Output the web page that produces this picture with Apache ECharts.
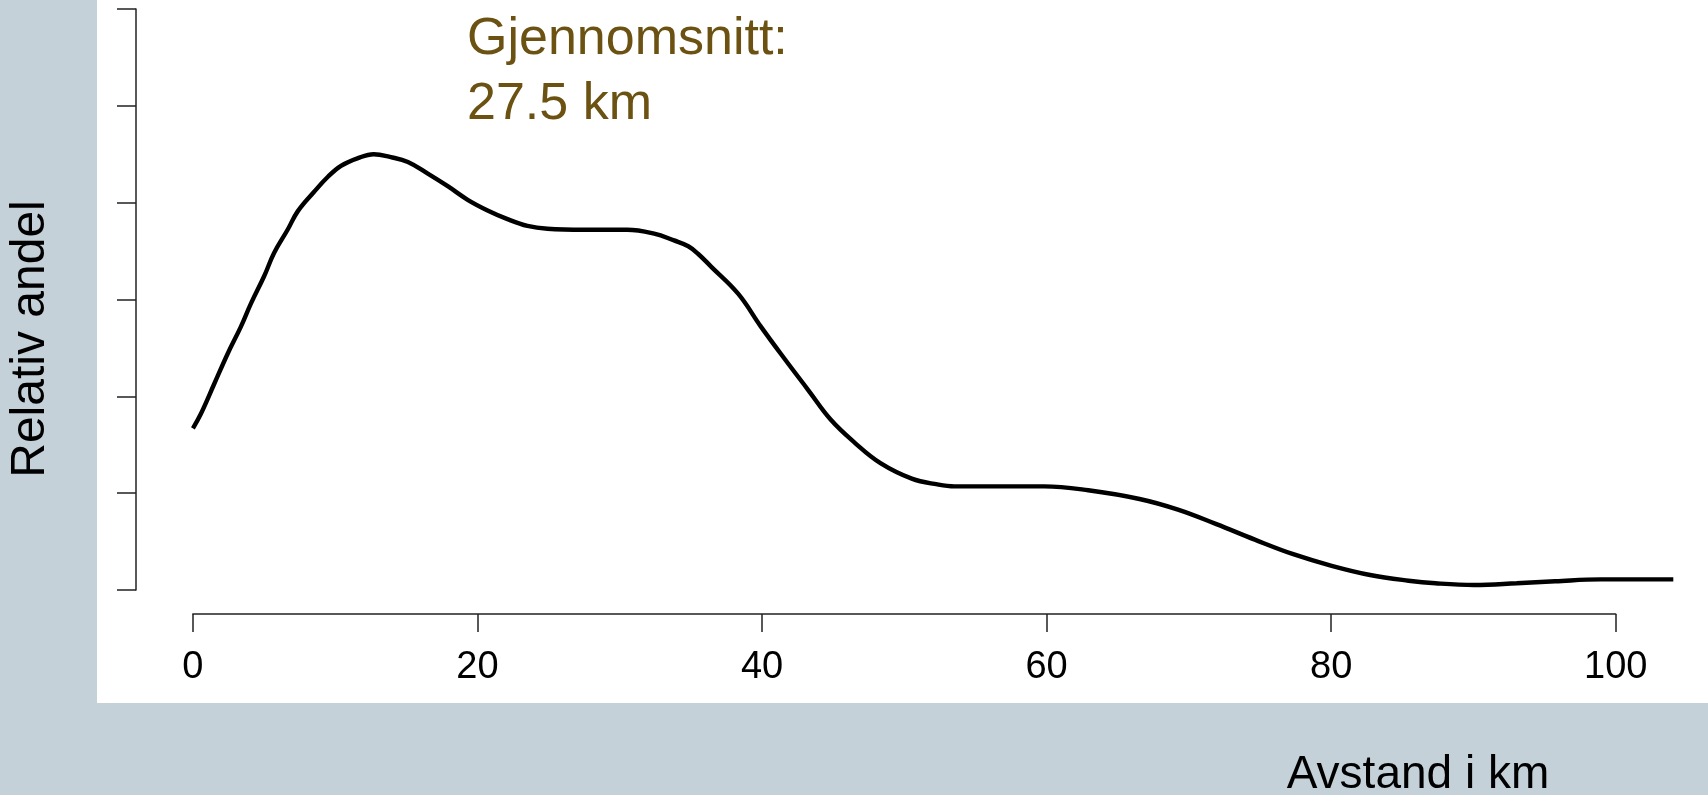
<!DOCTYPE html>
<html>
<head>
<meta charset="utf-8">
<title>Avstand i km</title>
<script src="https://cdn.jsdelivr.net/npm/echarts@6/dist/echarts.min.js"></script>
<style>
	html, body {
		margin: 0;
		padding: 0;
		background: #c5d1d8;
	}
	#wrap {
		position: relative;
		width: 1708px;
		height: 795px;
		background: #c5d1d8;
	}
	/* hvitt plottefelt */
	#panel {
		position: absolute;
		left: 97px;
		top: 0;
		width: 1611px;
		height: 703px;
		background: #ffffff;
	}
	#chart {
		position: absolute;
		left: 0;
		top: 0;
		width: 1708px;
		height: 795px;
	}
</style>
</head>
<body>
<div id="wrap">
	<div id="panel"></div>
	<div id="chart"></div>
</div>
<script>
// avstand (km) og relativ andel, lest av figuren
const distanceKm = [
	0, 0.56, 1.5, 2.44, 3.37, 4.08, 5.0, 5.7, 6.65, 7.36,
	8.5, 9.5, 10.4, 11.6, 12.7, 13.9, 15.1, 16.5, 17.9, 19.3,
	20.7, 22.1, 23.5, 24.9, 27.5, 30.5, 32.4, 33.8, 34.8, 35.5,
	36.4, 38.3, 39.9, 41.6, 43.2, 44.8, 46.5, 48.3, 50.5, 52.3,
	53.5, 57, 59.8, 62.9, 66.5, 69.2, 71.9, 74.6, 77.3, 80.0,
	82.7, 85.4, 87.3, 90.0, 93.0, 95.7, 98.9, 104
];
const relativeShare = [
	1.67, 1.82, 2.13, 2.44, 2.72, 2.96, 3.24, 3.48, 3.72, 3.91,
	4.11, 4.27, 4.38, 4.46, 4.50, 4.47, 4.42, 4.30, 4.17, 4.03,
	3.92, 3.83, 3.76, 3.73, 3.72, 3.72, 3.68, 3.61, 3.55, 3.47,
	3.34, 3.06, 2.72, 2.38, 2.07, 1.76, 1.52, 1.31, 1.15, 1.09,
	1.07, 1.07, 1.07, 1.03, 0.94, 0.83, 0.68, 0.52, 0.37, 0.25,
	0.155, 0.096, 0.069, 0.052, 0.069, 0.09, 0.11, 0.11
];
const xTicks = [0, 20, 40, 60, 80, 100];
const yTicks = [0, 1, 2, 3, 4, 5, 6];
const meanLabel = ['Gjennomsnitt:', '27.5 km'];

const font = '"Liberation Sans", Arial, Helvetica, sans-serif';
const axisColor = '#222';

const myChart = echarts.init(document.getElementById('chart'), null, { renderer: 'canvas' });

const curve = distanceKm.map((d, i) => [d, relativeShare[i]]);

const options = {
	animation: false,
	grid: [
		// kurvefeltet, y-aksen ligger på venstre kant
		{ left: 136, right: 34.7, top: 9, bottom: 205 },
		// egen smal rute kun for x-aksen (R-stil, forskjøvet ned)
		{ left: 192.9, right: 92.3, top: 613, bottom: 181 }
	],
	xAxis: [
		{
			gridIndex: 0,
			type: 'value',
			min: -4,
			max: 104,
			show: false
		},
		{
			gridIndex: 1,
			type: 'value',
			min: xTicks[0],
			max: xTicks[xTicks.length - 1],
			interval: xTicks[1] - xTicks[0],
			position: 'bottom',
			axisLine: { show: true, onZero: false, lineStyle: { color: axisColor, width: 1.5 } },
			axisTick: { show: true, inside: false, length: 18, lineStyle: { color: axisColor, width: 1.5 } },
			axisLabel: {
				show: true,
				margin: 35,
				fontSize: 38,
				color: '#000',
				fontFamily: font
			},
			splitLine: { show: false }
		}
	],
	yAxis: [
		{
			gridIndex: 0,
			type: 'value',
			min: yTicks[0],
			max: yTicks[yTicks.length - 1],
			interval: 1,
			position: 'left',
			axisLine: { show: true, onZero: false, lineStyle: { color: axisColor, width: 1.5 } },
			axisTick: { show: true, inside: false, length: 19, lineStyle: { color: axisColor, width: 1.5 } },
			axisLabel: { show: false },
			splitLine: { show: false }
		},
		{
			gridIndex: 1,
			type: 'value',
			show: false
		}
	],
	graphic: [
		{
			type: 'text',
			left: 467,
			top: 7,
			style: {
				text: meanLabel.join('\n'),
				font: '52px ' + font,
				lineHeight: 65,
				fill: '#6b5212'
			}
		},
		{
			type: 'text',
			x: 31,
			y: 339,
			rotation: Math.PI / 2,
			style: {
				text: 'Relativ andel',
				font: '48px ' + font,
				fill: '#000',
				align: 'center',
				verticalAlign: 'middle'
			}
		},
		{
			type: 'text',
			x: 1418,
			y: 752,
			style: {
				text: 'Avstand i km',
				font: '46px ' + font,
				fill: '#000',
				align: 'center',
				verticalAlign: 'top'
			}
		}
	],
	series: [
		{
			type: 'line',
			xAxisIndex: 0,
			yAxisIndex: 0,
			data: curve,
			smooth: 0.4,
			showSymbol: false,
			lineStyle: { color: '#000', width: 4.4 }
		}
	]
};

myChart.setOption(options);
</script>
</body>
</html>
